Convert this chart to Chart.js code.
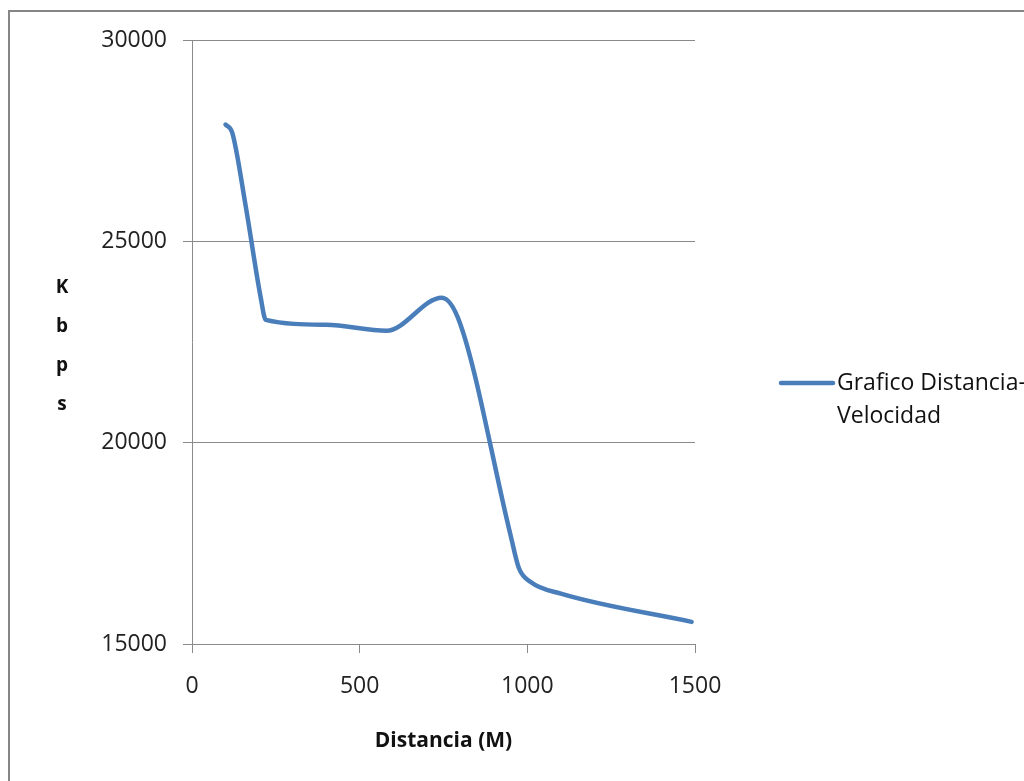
<!DOCTYPE html>
<html>
<head>
<meta charset="utf-8">
<script src="https://cdn.jsdelivr.net/npm/chart.js@4"></script>
<style>
  html, body { margin: 0; padding: 0; overflow: hidden; background: #fff; }
  #wrap { width: 1100px; height: 781px; }
</style>
</head>
<body>
<div id="wrap"><canvas id="velChart" width="1100" height="781"></canvas></div>
<script>
// Distancia vs velocidad
const distancias = [100, 120, 160, 205, 220, 400, 580, 745, 800, 950, 975, 1010, 1100, 1490];
const velocidades = [27900, 27700, 25880, 23600, 23050, 22930, 22780, 23600, 22950, 17700, 16880, 16540, 16250, 15550];
const xTicks = [0, 500, 1000, 1500];
const yTicks = [15000, 20000, 25000, 30000];
const serieNombre = ['Grafico Distancia-', 'Velocidad'];
const ejeY = ['K', 'b', 'p', 's'];

const azul = '#4a7ebb';
const gris = '#8a8a8a';
const fuente = "'Open Sans', sans-serif";

const puntos = distancias.map((d, i) => ({ x: d, y: velocidades[i] }));

// frame, stacked y title and two-line legend
const extras = {
  id: 'extras',
  beforeDraw(chart) {
    const c = chart.ctx;
    c.save();
    c.strokeStyle = '#868686';
    c.lineWidth = 2;
    c.strokeRect(9, 11, 1300, 1000);
    c.restore();
  },
  afterDraw(chart) {
    const c = chart.ctx;
    c.save();
    c.fillStyle = '#111';
    c.textAlign = 'center';
    c.textBaseline = 'middle';
    c.font = 'bold 19px ' + fuente;
    ejeY.forEach((l, i) => c.fillText(l, 62, 288 + i * 39));

    c.strokeStyle = azul;
    c.lineWidth = 4.5;
    c.lineCap = 'round';
    c.beginPath();
    c.moveTo(781, 383);
    c.lineTo(833, 383);
    c.stroke();

    c.textAlign = 'left';
    c.font = '23px ' + fuente;
    serieNombre.forEach((t, i) => c.fillText(t, 837, 383 + i * 33));
    c.restore();
  }
};

new Chart(document.getElementById('velChart'), {
  type: 'scatter',
  data: {
    datasets: [{
      label: serieNombre.join(''),
      data: puntos,
      showLine: true,
      borderColor: azul,
      backgroundColor: azul,
      borderWidth: 4.5,
      borderCapStyle: 'round',
      borderJoinStyle: 'round',
      cubicInterpolationMode: 'monotone',
      pointRadius: 0,
      pointHoverRadius: 0
    }]
  },
  options: {
    responsive: false,
    animation: false,
    layout: { padding: { left: 0, right: 405, top: 40, bottom: 0 } },
    plugins: {
      legend: { display: false },
      tooltip: { enabled: false }
    },
    scales: {
      x: {
        type: 'linear',
        min: 0,
        max: 1500,
        afterBuildTicks: s => { s.ticks = xTicks.map(v => ({ value: v })); },
        afterFit: s => { s.height = 137; },
        ticks: { color: '#222', font: { family: fuente, size: 23 }, padding: 20, callback: v => String(v) },
        grid: { drawOnChartArea: false, color: gris, tickLength: 9 },
        border: { color: gris },
        title: {
          display: true,
          text: 'Distancia (M)',
          color: '#111',
          font: { family: fuente, size: 21, weight: 'bold' },
          padding: { top: 0, bottom: 27 }
        }
      },
      y: {
        min: 15000,
        max: 30000,
        afterBuildTicks: s => { s.ticks = yTicks.map(v => ({ value: v })); },
        afterFit: s => { s.width = 192; },
        ticks: { color: '#222', font: { family: fuente, size: 23 }, padding: 16, callback: v => String(v) },
        grid: { color: gris, tickLength: 9 },
        border: { color: gris }
      }
    }
  },
  plugins: [extras]
});
</script>
</body>
</html>
